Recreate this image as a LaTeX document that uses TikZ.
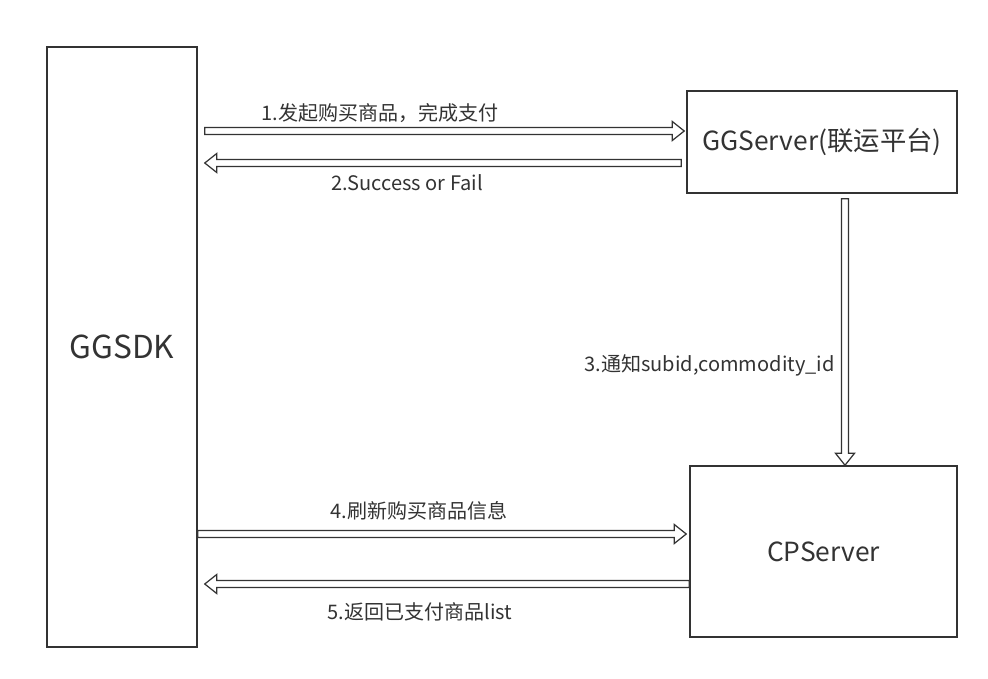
\documentclass[tikz,border=0pt]{standalone}
\usepackage{fontspec}
\setmainfont{Noto Sans CJK SC}
\usetikzlibrary{calc}
\definecolor{inkgray}{HTML}{333333}
\tikzset{
  figbox/.style={draw=inkgray, line width=0.9pt, text=inkgray, inner sep=0pt},
  fatarrow/.style={draw=inkgray, line width=0.7pt, fill=white, line join=miter},
  figlabel/.style={text=inkgray, font=\fontsize{11.4}{13}\selectfont, inner sep=0pt},
}
% outlined arrow from #1 to #2
\newcommand{\fatline}[2]{%
  \draw[fatarrow] let \p1=(#1), \p2=(#2),
    \n1={atan2((\y2)-(\y1),(\x2)-(\x1))}, \n2={veclen((\x2)-(\x1),(\y2)-(\y1))} in
    {[shift={(\p1)}, rotate=\n1]
      (0pt,2pt) -- ({\n2*1pt-6.8pt},2pt) -- ({\n2*1pt-6.8pt},5.4pt) -- ({\n2*1pt},0pt)
      -- ({\n2*1pt-6.8pt},-5.4pt) -- ({\n2*1pt-6.8pt},-2pt) -- (0pt,-2pt) -- cycle};}

\begin{document}
\begin{tikzpicture}[x=0.02cm, y=-0.02cm]
  \useasboundingbox (0,0) rectangle (988,679);
  % boxes
  \node[figbox, minimum width=3cm, minimum height=12cm, font=\fontsize{18}{20}\selectfont] (sdk) at (122,347) {GGSDK};
  \node[figbox, minimum width=5.4cm, minimum height=2.04cm, font=\fontsize{15}{18}\selectfont] (srv) at (822,142) {GGServer(联运平台)};
  \node[figbox, minimum width=5.34cm, minimum height=3.42cm, font=\fontsize{15}{18}\selectfont] (cp) at (823.5,551.5) {CPServer};
  % arrow ends
  \coordinate (s1) at ($(sdk.east |- srv.center)+(7,-11)$);
  \coordinate (e1) at ($(srv.west)+(-2,-11)$);
  \coordinate (s2) at ($(srv.west)+(-5,21)$);
  \coordinate (e2) at ($(sdk.east |- srv.center)+(7,21)$);
  \coordinate (s3) at ($(srv.south)+(23,5)$);
  \coordinate (e3) at (s3 |- cp.north);
  \coordinate (s4) at ($(cp.west -| sdk.east)+(0,-17.5)$);
  \coordinate (e4) at ($(cp.west)+(-3,-17.5)$);
  \coordinate (s5) at ($(cp.west)+(0,32.5)$);
  \coordinate (e5) at ($(cp.west -| sdk.east)+(7,32.5)$);
  \fatline{s1}{e1}
  \fatline{s2}{e2}
  \fatline{s3}{e3}
  \fatline{s4}{e4}
  \fatline{s5}{e5}
  % labels
  \node[figlabel] (l1) at (380,113) {1.发起购买商品，完成支付};
  \node[figlabel] (l2) at (407,183) {2.Success or Fail};
  \node[figlabel, anchor=east] (l3) at (835,365) {3.通知subid,commodity\_id};
  \node[figlabel] (l4) at (419,511) {4.刷新购买商品信息};
  \node[figlabel] (l5) at (420,612) {5.返回已支付商品list};
\end{tikzpicture}
\end{document}
